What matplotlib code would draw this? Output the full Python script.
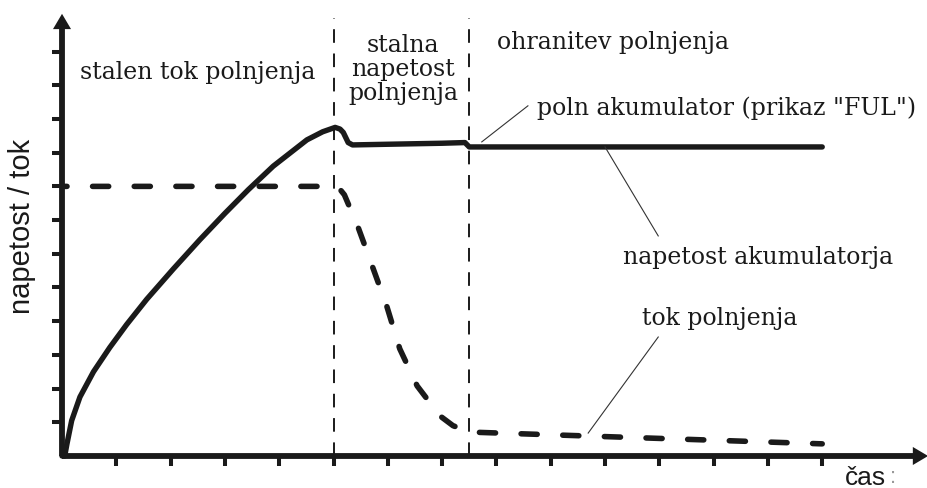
import matplotlib
matplotlib.use("Agg")
import matplotlib.pyplot as plt

# napetost akumulatorja (polna crta)
volt_x = [0, 0.05, 0.09, 0.178, 0.33, 0.58, 0.88, 1.19, 1.56, 2.05, 2.54, 3.0, 3.43,
          3.89, 4.51, 4.80, 5.03, 5.12, 5.18, 5.27, 5.35, 6.0, 7.0, 7.42, 7.5, 14.0]
volt_y = [0, 0.0, 0.35, 1.05, 1.75, 2.50, 3.22, 3.90, 4.65, 5.55, 6.42, 7.20, 7.90,
          8.60, 9.38, 9.62, 9.75, 9.70, 9.60, 9.30, 9.23, 9.25, 9.28, 9.30, 9.17, 9.17]

# tok polnjenja (crtkana crta)
tok_x = [0, 5.0, 5.1, 5.2, 5.45, 5.6, 5.98, 6.22, 6.54, 6.96, 7.2, 7.5, 14.0]
tok_y = [8.0, 8.0, 7.95, 7.75, 6.8, 6.14, 4.45, 3.18, 2.08, 1.19, 0.9, 0.71, 0.36]

faze = [5.0, 7.5]          # meje faz polnjenja
x_ticks = list(range(1, 15))
y_ticks = list(range(1, 13))

# opisi: (besedilo, x, y)
opisi = [
    ("stalen tok polnjenja", 0.33, 11.42),
    ("ohranitev polnjenja", 8.01, 12.31),
    ('poln akumulator (prikaz "FUL")', 8.75, 10.36),
    ("napetost akumulatorja", 10.33, 5.93),
    ("tok polnjenja", 10.68, 4.12),
]
# kazalci: (tocka na krivulji, konec pri besedilu)
kazalci = [
    ((7.73, 9.32), (8.58, 10.39)),
    ((10.0, 9.17), (10.98, 6.53)),
    ((9.69, 0.68), (10.98, 3.53)),
]

fig = plt.figure(figsize=(9.28, 4.89), dpi=100)
ax = fig.add_axes([0, 0, 1, 1])
ax.set_xlim(-1.142, 15.948)
ax.set_ylim(-0.95, 13.56)

ink = "#1a1a1a"

for s in ["top", "right"]:
    ax.spines[s].set_visible(False)
ax.spines["left"].set_position(("data", 0))
ax.spines["bottom"].set_position(("data", 0))
ax.spines["left"].set_bounds(0, 12.8)
ax.spines["bottom"].set_bounds(0, 15.7)
for s in ["left", "bottom"]:
    ax.spines[s].set_linewidth(4.2)
    ax.spines[s].set_color(ink)
    ax.spines[s].set_capstyle("butt")

ax.set_xticks(x_ticks)
ax.set_yticks(y_ticks)
ax.tick_params(direction="out", length=7, width=2.9, color=ink,
               labelbottom=False, labelleft=False)

# puscici na koncu osi
arrow = dict(arrowstyle="-|>,head_length=1.1,head_width=0.65", mutation_scale=10,
             lw=0, color=ink, shrinkA=0, shrinkB=0)
ax.annotate("", xy=(0, 13.12), xytext=(0, 12.5), arrowprops=arrow)
ax.annotate("", xy=(15.95, 0), xytext=(15.5, 0), arrowprops=arrow)

for f in faze:
    ax.plot([f, f], [0, 13.0], color=ink, lw=1.4, linestyle=(0, (7, 5.5)))

ax.plot(volt_x, volt_y, color=ink, lw=3.9, solid_capstyle="round", solid_joinstyle="round")
ax.plot(tok_x, tok_y, color=ink, lw=4.0, linestyle=(2.0, (2.9, 4.6)),
        dash_capstyle="round")

for (x0, y0), (x1, y1) in kazalci:
    ax.plot([x0, x1], [y0, y1], color="#333333", lw=0.8)

serif = "DejaVu Serif"
for txt, x, y in opisi:
    ax.text(x, y, txt, fontsize=17, family=serif, color=ink, ha="left", va="center")
ax.text(6.28, 11.5, "stalna\nnapetost\npolnjenja", fontsize=17, family=serif,
        color=ink, ha="center", va="center", multialignment="center", linespacing=1.05)

ax.text(-0.74, 6.85, "napetost / tok", fontsize=21, family="Liberation Sans",
        color=ink, rotation=90, ha="center", va="center")
ax.text(14.42, -0.62, "čas", fontsize=19, family="Liberation Sans", color=ink,
        ha="left", va="center")
ax.text(15.25, -0.62, ":", fontsize=16, family="Liberation Sans", color="#999999",
        ha="left", va="center")

fig.savefig("out.png", dpi=100)
